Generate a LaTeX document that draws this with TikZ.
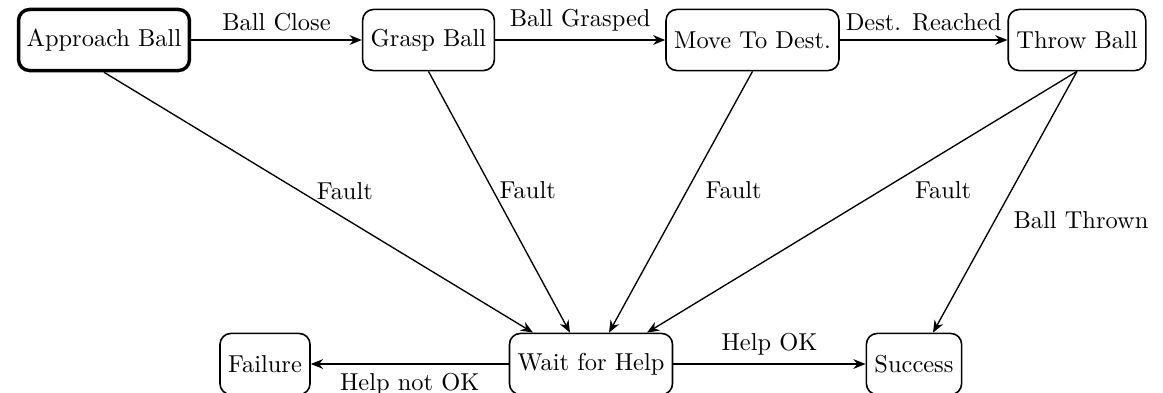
\documentclass[tikz,border=0pt]{standalone}
\usetikzlibrary{arrows.meta,calc}
\begin{document}
\begin{tikzpicture}[x=0.409pt,y=-0.409pt,
  stbox/.style={draw, rounded corners=4.5pt, minimum height=25pt, inner xsep=3.33pt, line width=0.65pt},
  startbox/.style={stbox, line width=1.4pt},
  tr/.style={-{Stealth[length=5pt,width=4pt]}, line width=0.55pt},
  lbl/.style={inner sep=0pt}]
\useasboundingbox (0,0) rectangle (1163,392);
% states
\node[startbox] (approach) at (104,40) {Approach Ball};
\node[stbox] (grasp) at (428.5,40) {Grasp Ball};
\node[stbox] (move) at (752.5,40) {Move To Dest.};
\node[stbox] (throw) at (1077,40) {Throw Ball};
\node[stbox] (wait) at (591,364) {Wait for Help};
\node[stbox] (failure) at (265,364) {Failure};
\node[stbox] (success) at (914,364) {Success};
% top row transitions
\draw[tr] (approach) -- node[above] {Ball Close} (grasp);
\draw[tr] (grasp) -- node[above] {Ball Grasped} (move);
\draw[tr] (move) -- node[above] {Dest. Reached} (throw);
% faults
\draw[tr] (approach.south) -- node[lbl, pos=0.478, anchor=west, xshift=2.9pt, yshift=2.4pt] {Fault} ($(wait.north)+(-58,0)$);
\draw[tr] (grasp.south) -- node[lbl, pos=0.478, anchor=west, xshift=1.2pt, yshift=2.4pt] {Fault} ($(wait.north)+(-21,0)$);
\draw[tr] (move.south) -- node[lbl, pos=0.478, anchor=west, xshift=8.6pt, yshift=2.4pt] {Fault} ($(wait.north)+(18,0)$);
\draw[tr] (throw.south) -- node[lbl, pos=0.478, anchor=west, xshift=17.6pt, yshift=2.4pt] {Fault} ($(wait.north)+(56,0)$);
\draw[tr] (throw.south) -- node[lbl, pos=0.571, anchor=west, xshift=7.4pt] {Ball Thrown} ($(success.north)+(19,0)$);
% bottom row
\draw[tr] (wait) -- node[below] {Help not OK} (failure);
\draw[tr] (wait) -- node[above] {Help OK} (success);
\end{tikzpicture}
\end{document}
